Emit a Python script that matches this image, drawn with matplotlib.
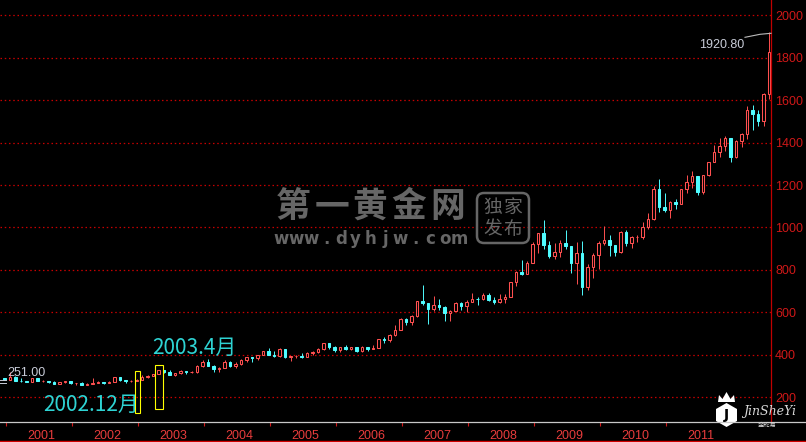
import numpy as np
import matplotlib
matplotlib.use('Agg')
import matplotlib.pyplot as plt
from matplotlib.patches import Rectangle, FancyBboxPatch, Polygon
from matplotlib.lines import Line2D
from matplotlib.transforms import Affine2D

plt.rcParams['font.family'] = ['Noto Sans CJK SC', 'DejaVu Sans']

# monthly gold candles, Jan 2000 .. Aug 2011
open_ = [
    288, 283, 293, 278, 275, 272, 288, 276, 277, 273, 264, 269,
    274, 265, 267, 258, 264, 267, 270, 266, 273, 293, 279, 275,
    278, 282, 297, 301, 308, 326, 318, 304, 312, 323, 317, 318,
    347, 367, 347, 334, 336, 364, 346, 354, 375, 388, 386, 398,
    416, 400, 396, 427, 388, 394, 395, 391, 408, 415, 429, 453,
    438, 422, 435, 428, 435, 417, 435, 429, 433, 473, 470, 495,
    517, 569, 556, 582, 654, 643, 614, 633, 624, 599, 604, 646,
    632, 650, 665, 662, 681, 659, 650, 665, 672, 743, 789, 783,
    834, 923, 972, 916, 864, 886, 929, 912, 833, 880, 718, 815,
    869, 927, 942, 916, 884, 979, 927, 954, 955, 1001, 1040, 1181,
    1096, 1081, 1118, 1113, 1180, 1213, 1244, 1169, 1248, 1307, 1357, 1386,
    1421, 1332, 1410, 1439, 1556, 1536, 1500, 1628]
close_ = [
    283, 293, 278, 275, 272, 288, 276, 277, 273, 264, 269, 274,
    265, 267, 258, 264, 267, 270, 266, 273, 293, 279, 275, 278,
    282, 297, 301, 308, 326, 318, 304, 312, 323, 317, 318, 347,
    367, 347, 334, 336, 364, 346, 354, 375, 388, 386, 398, 416,
    400, 396, 427, 388, 394, 395, 391, 408, 415, 429, 453, 438,
    422, 435, 428, 435, 417, 435, 429, 433, 473, 470, 495, 517,
    569, 556, 582, 654, 643, 614, 633, 624, 599, 604, 646, 632,
    650, 665, 662, 681, 659, 650, 665, 672, 743, 789, 783, 834,
    923, 972, 916, 864, 886, 929, 912, 833, 880, 718, 815, 869,
    927, 942, 916, 884, 979, 927, 954, 955, 1001, 1040, 1181, 1096,
    1081, 1118, 1113, 1180, 1213, 1244, 1169, 1248, 1307, 1357, 1386, 1421,
    1332, 1410, 1439, 1556, 1536, 1500, 1628, 1828]
high = [
    292, 320, 298, 288, 278, 292, 291, 279, 278, 275, 271, 275,
    274, 268, 269, 265, 292, 275, 272, 278, 295, 294, 280, 281,
    285, 304, 304, 311, 328, 330, 328, 315, 326, 324, 322, 350,
    373, 382, 353, 341, 373, 371, 365, 378, 391, 391, 400, 417,
    430, 418, 432, 427, 395, 400, 410, 415, 418, 431, 456, 456,
    440, 438, 448, 438, 436, 443, 438, 448, 475, 484, 497, 541,
    575, 574, 589, 654, 730, 643, 676, 663, 628, 611, 650, 650,
    660, 692, 670, 692, 692, 672, 684, 685, 745, 795, 845, 840,
    933, 975, 1033, 938, 925, 941, 988, 915, 930, 935, 830, 882,
    935, 1007, 964, 917, 982, 990, 961, 964, 1025, 1070, 1195, 1227,
    1162, 1127, 1135, 1181, 1249, 1266, 1245, 1249, 1308, 1388, 1424, 1432,
    1423, 1412, 1448, 1575, 1577, 1553, 1632, 1920.8]
low = [
    280, 282, 274, 273, 270, 270, 275, 270, 268, 263, 262, 268,
    262, 255, 256, 255, 262, 265, 264, 265, 271, 276, 268, 271,
    276, 281, 289, 300, 307, 314, 302, 300, 310, 310, 314, 316,
    343, 345, 320, 319, 335, 343, 339, 350, 366, 366, 374, 398,
    399, 390, 391, 386, 372, 383, 385, 388, 397, 406, 424, 428,
    415, 411, 424, 421, 414, 413, 416, 425, 432, 457, 458, 490,
    515, 538, 538, 577, 636, 543, 608, 610, 560, 560, 604, 609,
    602, 650, 636, 660, 652, 640, 644, 645, 670, 725, 775, 780,
    832, 882, 900, 855, 850, 860, 900, 786, 735, 681, 705, 760,
    802, 918, 865, 866, 881, 915, 905, 932, 946, 995, 1036, 1075,
    1075, 1044, 1088, 1110, 1162, 1185, 1155, 1157, 1242, 1307, 1331, 1360,
    1309, 1330, 1382, 1418, 1462, 1478, 1478, 1604]

years = ['2001', '2002', '2003', '2004', '2005', '2006',
         '2007', '2008', '2009', '2010', '2011']
price_ticks = [200, 400, 600, 800, 1000, 1200, 1400, 1600, 1800, 2000]

RED = '#ff5050'
CYAN = '#4ffcff'
GRID = '#c80000'
WM = '#666666'

W, H = 806, 442
fig = plt.figure(figsize=(W / 100, H / 100), dpi=100, facecolor='black')
# pixel coords, origin top-left
T = Affine2D().scale(1 / W, -1 / H).translate(0, 1) + fig.transFigure

ax = fig.add_axes([0, 1 - 421.7 / H, 771 / W, 421.7 / H])
ax.set_facecolor('black')
for s in ax.spines.values():
    s.set_visible(False)
ax.set_xlim(-0.818, 139.36)
ax.set_ylim(84, 2073)

for p in price_ticks:
    ax.axhline(p, color=GRID, lw=0.9, ls=(0, (1.2, 2.2)), zorder=1)

w = 0.42
for i in range(len(close_)):
    o, h, l, c = open_[i], high[i], low[i], close_[i]
    if c >= o:
        col = RED
        ax.add_patch(Rectangle((i - w / 2, o), w, c - o, facecolor='black',
                               edgecolor=col, lw=0.75, zorder=3))
    else:
        col = CYAN
        ax.add_patch(Rectangle((i - w / 2, c), w, o - c, facecolor=col,
                               edgecolor=col, lw=0.75, zorder=3))
    ax.vlines(i, max(o, c), h, color=col, lw=0.7, zorder=3)
    ax.vlines(i, l, min(o, c), color=col, lw=0.7, zorder=3)

# right price axis
ax.yaxis.tick_right()
ax.set_yticks(price_ticks)
ax.set_yticklabels([str(p) for p in price_ticks], family='Liberation Sans',
                   fontsize=9, color='#d01818')
ax.tick_params(axis='y', length=0, pad=3)

# year axis: marks at boundaries, labels in between
ax.set_xticks([12 * k + 0.2 for k in range(len(years))])
ax.set_xticklabels([])
ax.set_xticks([12 * k + 6.7 for k in range(len(years))], minor=True)
ax.set_xticklabels(years, minor=True, family='Liberation Sans', fontsize=9,
                   color='#e83c3c')
ax.tick_params(axis='x', which='major', direction='out', length=3,
               width=0.8, color='#d01818')
ax.tick_params(axis='x', which='minor', length=0, pad=6)

# frame lines
fig.add_artist(Line2D([771, 771], [0, 421.7], color='#c00000', lw=0.9, transform=T))
fig.add_artist(Line2D([0, 806], [421.7, 421.7], color='#c8c8c8', lw=0.9, transform=T))
fig.add_artist(Line2D([0, 806], [440.5, 440.5], color='#d00000', lw=1.0, transform=T))

# watermark
for k, ch in enumerate('第一黄金网'):
    fig.text(293 + 38.6 * k, 206.5, ch, transform=T, ha='center', va='center',
             fontsize=25, fontweight='bold', color=WM)
for k, ch in enumerate('www.dyhjw.com'):
    fig.text(274 + 14.85 * (k + 0.5), 244.3, ch, transform=T, ha='center',
             va='baseline', fontsize=12, fontweight='bold', color=WM,
             family='DejaVu Sans')
fig.add_artist(FancyBboxPatch((477, 193), 52, 50,
                              boxstyle='round,pad=0,rounding_size=7',
                              fc='none', ec=WM, lw=1.8, transform=T))
for ch, (x, y) in zip('独家发布', [(493, 207), (513, 207), (493, 229), (513, 229)]):
    fig.text(x, y, ch, transform=T, ha='center', va='center', fontsize=13.5, color=WM)

# annotations
fig.text(152, 347.5, '2003.4月', transform=T, ha='left', va='center',
         fontsize=15, color='#2ed3d3')
fig.text(43, 405, '2002.12月', transform=T, ha='left', va='center',
         fontsize=15, color='#2ed3d3')
fig.add_artist(Rectangle((135, 371), 5, 42, fc='none', ec='#ffff00', lw=0.8, transform=T))
fig.add_artist(Rectangle((155, 365), 7.7, 44, fc='none', ec='#ffff00', lw=0.8, transform=T))

fig.text(7, 373.5, '251.00', transform=T, ha='left', va='center',
         family='Liberation Sans', fontsize=9, color='#c8ccd8')
fig.add_artist(Line2D([0, 6], [379.5, 379.5], color='#c8ccd8', lw=0.7, transform=T))
fig.add_artist(Line2D([0, 6], [383, 383], color='#c8ccd8', lw=0.7, transform=T))
fig.text(699, 45, '1920.80', transform=T, ha='left', va='center',
         family='Liberation Sans', fontsize=9, color='#c8ccd8')
fig.add_artist(Line2D([745, 760, 771], [37.3, 34.3, 33.3], color='#bbbbbb',
                      lw=0.8, transform=T))

# logo
fig.add_artist(Polygon([(726.5, 403), (737, 409), (737, 421), (726.5, 427),
                        (716, 421), (716, 409)], fc='white', ec='none', transform=T))
fig.add_artist(Polygon([(718, 402), (719, 395), (722.5, 399), (726.5, 392),
                        (730.5, 399), (734, 395), (735, 402)], fc='white',
                       ec='none', transform=T))
fig.text(726.5, 415, 'J', transform=T, ha='center', va='center', fontsize=10,
         fontweight='bold', color='black', family='DejaVu Sans')
fig.text(743, 411.5, 'JinSheYi', transform=T, ha='left', va='center', fontsize=9,
         style='italic', color='#d8d8d8', family='DejaVu Serif')
fig.text(767, 424.5, '金蛇易', transform=T, ha='center', va='center', fontsize=4.5,
         color='#d8d8d8')

fig.savefig('out.png', dpi=100, facecolor='black')
